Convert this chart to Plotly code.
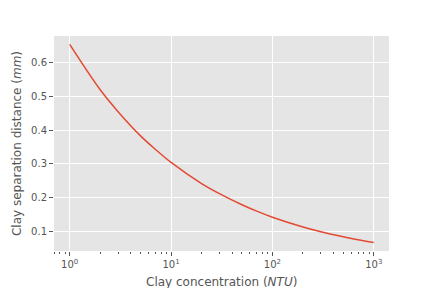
import plotly.graph_objects as go

conc = [1, 2, 3, 5, 7, 10, 20, 30, 50, 70, 100, 200, 300, 500, 700, 1000]
dist = [0.655, 0.520, 0.455, 0.383, 0.343, 0.304, 0.241, 0.211, 0.178, 0.159,
        0.141, 0.112, 0.098, 0.083, 0.074, 0.066]

xtick_vals = [1, 10, 100, 1000]
xtick_text = ["10<sup>0</sup>", "10<sup>1</sup>", "10<sup>2</sup>", "10<sup>3</sup>"]
ytick_vals = [0.1, 0.2, 0.3, 0.4, 0.5, 0.6]

fig = go.Figure(go.Scatter(x=conc, y=dist, mode="lines", line=dict(color="#E24A33", width=1.5, shape="spline")))

fig.update_layout(
    width=432, height=288,
    margin=dict(l=54, r=43, t=36, b=37, autoexpand=False),
    paper_bgcolor="white", plot_bgcolor="#E5E5E5",
    font=dict(family="DejaVu Sans", color="#555555", size=10),
    showlegend=False,
    annotations=[
        dict(text="Clay concentration (<i>NTU</i>)", xref="paper", yref="paper",
             x=0.5, y=0, yanchor="top", xanchor="center", yshift=-22, showarrow=False,
             font=dict(size=12, color="#555555")),
    ],
)
fig.update_xaxes(
    type="log", range=[-0.155, 3.15], automargin=False,
    tickvals=xtick_vals, ticktext=xtick_text,
    showgrid=True, gridcolor="white", gridwidth=1,
    ticks="outside", ticklen=4, tickcolor="#555555", tickwidth=1,
    minor=dict(ticks="outside", ticklen=2, tickcolor="#555555", showgrid=False,
               tickvals=[0.7, 0.8, 0.9, 2, 3, 4, 5, 6, 7, 8, 9, 20, 30, 40, 50, 60, 70, 80, 90,
                         200, 300, 400, 500, 600, 700, 800, 900]),
    zeroline=False, showline=False,
    tickfont=dict(size=10, color="#555555"),
)
fig.update_yaxes(
    range=[0.0405, 0.680], automargin=False,
    tickvals=ytick_vals, ticktext=["0.1", "0.2", "0.3", "0.4", "0.5", "0.6"],
    showgrid=True, gridcolor="white", gridwidth=1,
    ticks="outside", ticklen=4, tickcolor="#555555", tickwidth=1,
    zeroline=False, showline=False,
    title=dict(text="Clay separation distance (<i>mm</i>)", font=dict(size=12, color="#555555"), standoff=6),
    tickfont=dict(size=10, color="#555555"),
)

fig.write_html("out.html")
